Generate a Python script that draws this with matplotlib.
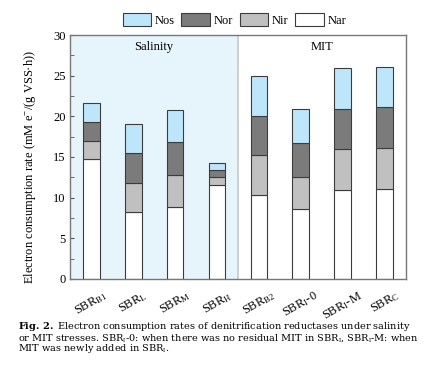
import matplotlib
matplotlib.use('Agg')
import matplotlib.pyplot as plt
import numpy as np
from matplotlib.patches import Patch
from matplotlib.ticker import MultipleLocator

plt.rcParams['font.family'] = ['Liberation Serif', 'DejaVu Serif']
plt.rcParams['mathtext.fontset'] = 'custom'
plt.rcParams['mathtext.rm'] = 'Liberation Serif'
plt.rcParams['mathtext.it'] = 'Liberation Serif:italic'
plt.rcParams['mathtext.bf'] = 'DejaVu Serif:bold'

# Данные (сегменты стопки, снизу вверх)
reactors = [r'SBR$_{\mathrm{B1}}$', r'SBR$_{\mathrm{L}}$', r'SBR$_{\mathrm{M}}$', r'SBR$_{\mathrm{H}}$',
            r'SBR$_{\mathrm{B2}}$', r'SBR$_{\mathrm{I}}$-0', r'SBR$_{\mathrm{I}}$-M', r'SBR$_{\mathrm{C}}$']
nar = [14.7, 8.2, 8.8, 11.6, 10.3, 8.6, 10.95, 11.1]
nir = [2.3, 3.65, 4.0, 0.9, 4.9, 4.0, 5.0, 5.05]
nor = [2.3, 3.65, 4.0, 0.9, 4.9, 4.1, 4.95, 5.0]
nos = [2.3, 3.6, 4.0, 0.9, 4.9, 4.2, 5.0, 4.95]

fig = plt.figure(figsize=(4.38, 3.78), dpi=100)
ax = fig.add_axes([0.1605, 0.262, 0.7655, 0.6454])

x = np.arange(len(reactors))
w = 0.4
edge = '#3c3c3c'

ax.axvspan(-0.5, 3.5, color='#e6f5fc', zorder=0, lw=0)
ax.axvline(3.5, color='#c8c8c8', lw=1.2, zorder=1)

bottom = np.zeros(len(x))
series = [(nar, 'white', 'Nar'), (nir, '#c0c0c0', 'Nir'),
          (nor, '#7b7b7b', 'Nor'), (nos, '#bde6fb', 'Nos')]
for vals, col, name in series:
    ax.bar(x, vals, w, bottom=bottom, color=col, edgecolor=edge, linewidth=0.8, zorder=2)
    bottom += np.array(vals)

ax.set_xlim(-0.5, 7.5)
ax.set_ylim(0, 30)
ax.yaxis.set_major_locator(MultipleLocator(5))
ax.yaxis.set_minor_locator(MultipleLocator(2.5))
ax.tick_params(axis='y', which='both', direction='in', length=3, labelsize=9, color='#555555')
ax.tick_params(axis='x', length=0, labelsize=9, pad=7)
ax.set_xticks(x)
ax.set_xticklabels(reactors, rotation=30, ha='center')
for s in ax.spines.values():
    s.set_color('#777777')
    s.set_linewidth(1.0)

ax.set_ylabel('Electron consumption rate (mM e$^{-}$/(g VSS·h))', fontsize=9)
ax.yaxis.set_label_coords(-0.095, 0.46)

ax.text(1.5, 28.5, 'Salinity', ha='center', va='center', fontsize=9)
ax.text(5.5, 28.5, 'MIT', ha='center', va='center', fontsize=9)

handles = [Patch(facecolor=c, edgecolor=edge, linewidth=0.8, label=n) for _, c, n in series[::-1]]
fig.legend(handles=handles, loc='center', bbox_to_anchor=(0.535, 0.947), ncol=4, frameon=False,
           fontsize=9, handlelength=2.3, handleheight=1.2, handletextpad=0.3, columnspacing=0.5)

# Подпись к рисунку
cap = '\n'.join([
    r'$\mathbf{Fig.\ 2.}$ Electron consumption rates of denitrification reductases under salinity',
    r'or MIT stresses. SBR$_{\mathrm{I}}$-0: when there was no residual MIT in SBR$_{\mathrm{I}}$, SBR$_{\mathrm{I}}$-M: when',
    r'MIT was newly added in SBR$_{\mathrm{I}}$.'])
fig.text(18 / 438, 1 - 320 / 378, cap, ha='left', va='top', fontsize=7.0,
         family='DejaVu Serif', linespacing=0.84)

fig.savefig('out.png', dpi=100)
